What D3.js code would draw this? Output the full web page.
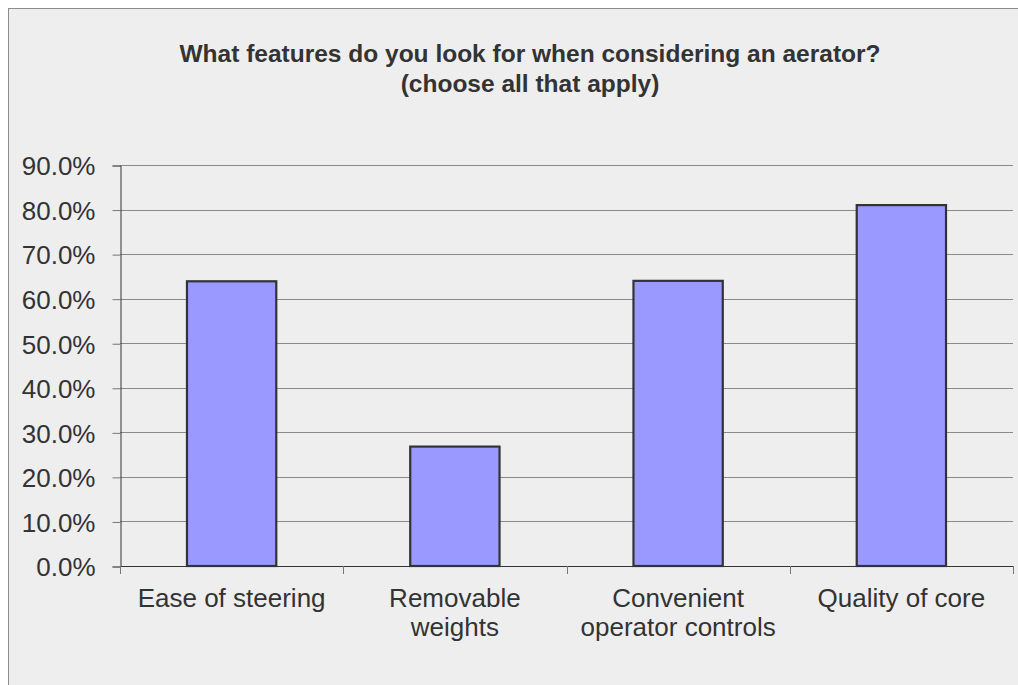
<!DOCTYPE html>
<html>
<head>
<meta charset="utf-8">
<script src="https://cdn.jsdelivr.net/npm/d3@7/dist/d3.min.js"></script>
<style>
  html, body { margin: 0; padding: 0; background: #ffffff; }
  svg { display: block; }
  text { font-family: "Liberation Sans", Arial, Helvetica, sans-serif; fill: #333333; }
</style>
</head>
<body>
<svg id="chart" width="1018" height="685"></svg>
<script>
const titleLines = ["What features do you look for when considering an aerator?", "(choose all that apply)"];
const categories = ["Ease of steering", "Removable weights", "Convenient operator controls", "Quality of core"];
const values = [63.9, 26.8, 64.0, 81.0];
const yTicks = [0, 10, 20, 30, 40, 50, 60, 70, 80, 90];

(function() {
const svg = d3.select("#chart");

// outer frame
svg.append("rect").attr("x", 8.5).attr("y", 8.5).attr("width", 1100).attr("height", 700)
  .attr("fill", "#eeeeee").attr("stroke", "#8c8c8c").attr("stroke-width", 1);

const pL = 120, pR = 1013, pT = 165, pB = 566;

const x = d3.scaleBand().domain(categories).range([pL, pR]).paddingInner(0.6).paddingOuter(0.3);
const y = d3.scaleLinear().domain([0, 90]).range([pB, pT]);

// title
const title = svg.append("text").attr("text-anchor", "middle")
  .style("font-size", "24.5px").style("font-weight", "bold");
titleLines.forEach((t, i) => {
  title.append("tspan").attr("x", 530).attr("y", 62 + i * 30).text(t);
});

// gridlines
svg.append("g").selectAll("line").data(yTicks.filter(d => d > 0)).join("line")
  .attr("x1", pL).attr("x2", pR)
  .attr("y1", d => Math.round(y(d)) + 0.5).attr("y2", d => Math.round(y(d)) + 0.5)
  .attr("stroke", "#8a8a8a").attr("stroke-width", 1);

// y axis
const yAxis = d3.axisLeft(y).tickValues(yTicks).tickFormat(d => d.toFixed(1) + "%").tickSize(8).tickPadding(17);
const gy = svg.append("g").attr("transform", `translate(${pL + 0.5},0.5)`).call(yAxis);
gy.select(".domain").attr("stroke", "#333333");
gy.selectAll(".tick line").attr("stroke", "#777777");
gy.selectAll(".tick text").style("font-size", "26px").attr("fill", "#333333")
  .attr("font-family", null).attr("dy", "0.36em");

// bars
svg.append("g").selectAll("rect").data(categories).join("rect")
  .attr("x", d => x(d)).attr("width", x.bandwidth())
  .attr("y", (d, i) => y(values[i])).attr("height", (d, i) => y(0) - y(values[i]))
  .attr("fill", "#9999ff").attr("stroke", "#333333").attr("stroke-width", 2.2);

// x axis line
svg.append("line").attr("x1", pL).attr("x2", pR).attr("y1", pB + 0.5).attr("y2", pB + 0.5)
  .attr("stroke", "#333333").attr("stroke-width", 1);

// category boundary ticks
const step = x.step();
const bounds = categories.map(c => x(c) - step * x.paddingOuter()).concat([pR]);
svg.append("g").selectAll("line").data(bounds).join("line")
  .attr("x1", d => Math.round(d) + 0.5).attr("x2", d => Math.round(d) + 0.5)
  .attr("y1", pB).attr("y2", pB + 8)
  .attr("stroke", "#777777").attr("stroke-width", 1);

// category labels (wrapped to band step)
const labels = svg.append("g").selectAll("text").data(categories).join("text")
  .attr("text-anchor", "middle").style("font-size", "26px");
labels.each(function(d) {
  const el = d3.select(this);
  const cx = x(d) + x.bandwidth() / 2;
  const words = d.split(" ");
  const lines = [];
  let line = [];
  const probe = el.append("tspan");
  words.forEach(w => {
    const test = line.concat([w]).join(" ");
    probe.text(test);
    if (probe.node().getComputedTextLength() > step - 6 && line.length) {
      lines.push(line.join(" "));
      line = [w];
    } else {
      line.push(w);
    }
  });
  lines.push(line.join(" "));
  probe.remove();
  lines.forEach((l, i) => {
    el.append("tspan").attr("x", cx).attr("y", pB + 41 + i * 28.5).text(l);
  });
});
})();
</script>
</body>
</html>
